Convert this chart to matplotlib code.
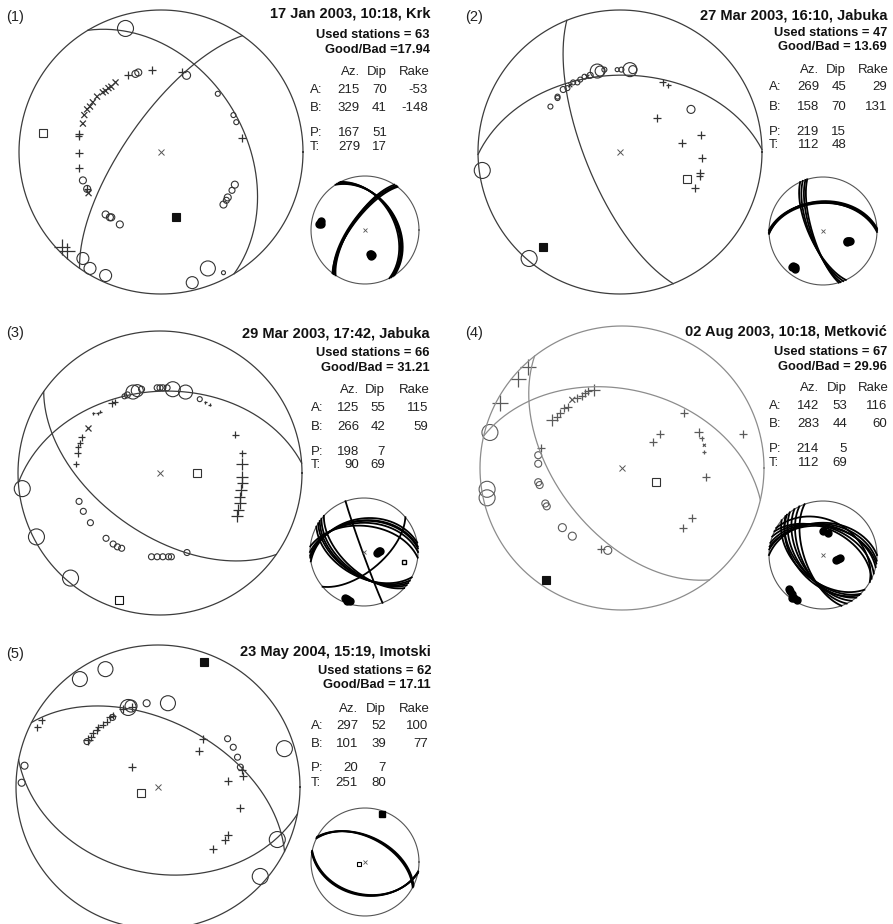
"""Focal mechanism stereonets for five earthquakes (lower hemisphere, equal area)."""

import matplotlib

matplotlib.use("Agg")

import matplotlib.pyplot as plt
import numpy as np


W, H = 893, 924

# ---- event data -------------------------------------------------------------
titles = [
    "17 Jan 2003, 10:18, Krk",
    "27 Mar 2003, 16:10, Jabuka",
    "29 Mar 2003, 17:42, Jabuka",
    "02 Aug 2003, 10:18, Metković",
    "23 May 2004, 15:19, Imotski",
]
used_stations = [63, 47, 66, 67, 62]
good_bad = ["=17.94", "= 13.69", "= 31.21", "= 29.96", "= 17.11"]
plane_a = [(215, 70, -53), (269, 45, 29), (125, 55, 115), (142, 53, 116), (297, 52, 100)]
plane_b = [(329, 41, -148), (158, 70, 131), (266, 42, 59), (283, 44, 60), (101, 39, 77)]
p_axis = [(167, 51), (219, 15), (198, 7), (214, 5), (20, 7)]
t_axis = [(279, 17), (112, 48), (90, 69), (112, 69), (251, 80)]
p_filled = [True, True, False, True, True]

# polarity readings, projected station positions (east, north in radius units)
# and symbol diameter in pixels
comp_1 = [(-0.23, 0.54, 8), (-0.06, 0.58, 8), (0.15, 0.56, 8), (0.57, 0.10, 8),
          (-0.58, 0.13, 8), (-0.58, 0.11, 7), (-0.58, -0.01, 8), (-0.58, -0.11, 8),
          (-0.52, -0.26, 7), (-0.70, -0.67, 16), (-0.66, -0.70, 16)]
cross_1 = [(-0.32, 0.49, 6), (-0.35, 0.46, 6), (-0.37, 0.45, 6), (-0.39, 0.43, 6),
           (-0.41, 0.42, 6), (-0.45, 0.39, 6), (-0.48, 0.35, 6), (-0.50, 0.32, 6),
           (-0.52, 0.30, 6), (-0.54, 0.26, 6), (-0.55, 0.20, 6), (-0.51, -0.29, 6)]
dil_1 = [(-0.25, 0.87, 16), (-0.18, 0.55, 7), (-0.16, 0.56, 7), (0.18, 0.54, 8),
         (0.40, 0.41, 5), (0.51, 0.26, 5), (0.53, 0.21, 5), (0.52, -0.23, 7),
         (0.50, -0.27, 6), (0.47, -0.32, 7), (0.46, -0.34, 6), (0.44, -0.37, 7),
         (-0.55, -0.20, 7), (-0.52, -0.26, 7), (-0.39, -0.44, 7), (-0.36, -0.46, 7),
         (-0.35, -0.46, 7), (-0.29, -0.51, 7), (-0.55, -0.75, 12), (-0.50, -0.82, 12),
         (-0.39, -0.87, 12), (0.22, -0.92, 12), (0.33, -0.82, 15), (0.44, -0.85, 4)]

comp_2 = [(0.30, 0.49, 7), (0.34, 0.47, 5), (0.26, 0.24, 8), (0.44, 0.06, 8),
          (0.57, 0.12, 8), (0.58, -0.04, 8), (0.56, -0.15, 8), (0.56, -0.17, 7),
          (0.53, -0.25, 8)]
cross_2 = [(-0.35, 0.47, 4), (-0.23, 0.53, 4)]
dil_2 = [(-0.49, 0.32, 5), (-0.44, 0.38, 5), (-0.44, 0.39, 5), (-0.40, 0.44, 6),
         (-0.37, 0.45, 5), (-0.33, 0.49, 5), (-0.30, 0.49, 5), (-0.28, 0.51, 5),
         (-0.25, 0.53, 5), (-0.21, 0.54, 6), (-0.16, 0.57, 14), (-0.14, 0.57, 10),
         (-0.11, 0.58, 5), (-0.02, 0.58, 4), (0.01, 0.58, 5), (0.07, 0.58, 14),
         (0.09, 0.58, 8), (0.50, 0.30, 8), (-0.97, -0.13, 16), (-0.64, -0.75, 16)]

comp_3 = [(0.32, 0.50, 3), (0.35, 0.48, 3), (-0.34, 0.49, 7), (-0.32, 0.50, 6),
          (-0.47, 0.42, 3), (-0.44, 0.42, 3), (-0.42, 0.43, 3), (-0.55, 0.25, 7),
          (-0.56, 0.21, 6), (-0.58, 0.18, 6), (-0.58, 0.14, 7), (-0.59, 0.06, 6),
          (0.53, 0.27, 7), (0.58, 0.14, 7), (0.58, 0.06, 12), (0.58, -0.03, 12),
          (0.58, -0.07, 11), (0.57, -0.12, 12), (0.56, -0.17, 11), (0.56, -0.21, 12),
          (0.55, -0.26, 11), (0.54, -0.30, 12)]
cross_3 = [(-0.51, 0.32, 6)]
dil_3 = [(-0.25, 0.54, 5), (-0.23, 0.55, 6), (-0.19, 0.57, 14), (-0.16, 0.58, 12),
         (-0.13, 0.59, 6), (-0.02, 0.60, 6), (0.00, 0.60, 6), (0.02, 0.60, 6),
         (0.05, 0.60, 6), (0.09, 0.59, 15), (0.18, 0.57, 14), (0.28, 0.52, 5),
         (-0.97, -0.11, 16), (-0.87, -0.45, 16), (-0.63, -0.74, 16), (-0.57, -0.20, 6),
         (-0.54, -0.27, 6), (-0.49, -0.35, 6), (-0.38, -0.46, 6), (-0.33, -0.50, 6),
         (-0.30, -0.52, 6), (-0.27, -0.53, 6), (-0.06, -0.59, 6), (-0.02, -0.59, 6),
         (0.02, -0.59, 6), (0.06, -0.59, 6), (0.08, -0.59, 6), (0.19, -0.56, 6)]

comp_4 = [(-0.66, 0.71, 16), (-0.73, 0.63, 16), (-0.86, 0.46, 16), (-0.49, 0.34, 12),
          (-0.46, 0.36, 8), (-0.44, 0.39, 8), (-0.41, 0.42, 8), (-0.38, 0.43, 8),
          (-0.32, 0.49, 8), (-0.28, 0.51, 8), (-0.26, 0.53, 8), (-0.24, 0.54, 8),
          (-0.20, 0.55, 12), (-0.57, 0.14, 8), (-0.15, -0.57, 8), (0.27, 0.24, 8),
          (0.22, 0.18, 8), (0.44, 0.39, 8), (0.54, 0.25, 9), (0.56, 0.21, 5),
          (0.58, 0.11, 4), (0.59, -0.06, 8), (0.49, -0.35, 8), (0.43, -0.42, 8),
          (0.85, 0.24, 8)]
cross_4 = [(-0.35, 0.48, 6), (0.58, 0.16, 3)]
dil_4 = [(-0.93, 0.25, 16), (-0.95, -0.15, 16), (-0.95, -0.21, 16), (-0.59, 0.09, 7),
         (-0.59, 0.03, 7), (-0.59, -0.10, 7), (-0.58, -0.12, 7), (-0.54, -0.25, 7),
         (-0.53, -0.27, 7), (-0.42, -0.42, 8), (-0.35, -0.48, 8), (-0.10, -0.58, 8)]

comp_5 = [(-0.85, 0.42, 7), (-0.82, 0.47, 7), (-0.49, 0.33, 10), (-0.47, 0.35, 7),
          (-0.46, 0.38, 7), (-0.43, 0.40, 7), (-0.42, 0.42, 7), (-0.39, 0.44, 7),
          (-0.36, 0.46, 7), (-0.34, 0.49, 7), (-0.32, 0.50, 7), (-0.25, 0.55, 8),
          (-0.18, 0.56, 8), (-0.18, 0.14, 8), (0.32, 0.34, 8), (0.29, 0.25, 8),
          (0.59, 0.12, 8), (0.60, 0.08, 8), (0.49, 0.04, 8), (0.58, -0.15, 8),
          (0.49, -0.34, 8), (0.47, -0.37, 8), (0.39, -0.44, 8)]
cross_5 = []
dil_5 = [(-0.55, 0.76, 15), (-0.37, 0.83, 15), (-0.21, 0.56, 16), (-0.19, 0.57, 12),
         (0.07, 0.59, 15), (0.89, 0.27, 16), (0.84, -0.37, 16), (0.72, -0.63, 16),
         (-0.08, 0.59, 7), (-0.94, 0.15, 7), (-0.96, 0.03, 7), (0.49, 0.34, 6),
         (0.53, 0.28, 6), (0.56, 0.21, 6), (0.58, 0.14, 6), (-0.50, 0.32, 6),
         (-0.32, 0.49, 6)]

compressions = [comp_1, comp_2, comp_3, comp_4, comp_5]
crosses = [cross_1, cross_2, cross_3, cross_4, cross_5]
dilatations = [dil_1, dil_2, dil_3, dil_4, dil_5]

# inset: nodal plane solutions (strike, dip) and P / T axes (trend, plunge)
ins_planes_1 = [(213, 69), (215, 70), (217, 71), (216, 68), (327, 40), (329, 41),
                (331, 42), (333, 44)]
ins_p_1 = [(167, 51), (165, 50), (169, 52), (166, 53), (168, 49)]
ins_t_1 = [(279, 17), (277, 16), (281, 18), (278, 19)]
ins_planes_2 = [(267, 44), (269, 45), (271, 46), (268, 47), (155, 69), (158, 70),
                (161, 72), (163, 74)]
ins_p_2 = [(219, 15), (217, 14), (221, 16), (220, 13), (218, 17)]
ins_t_2 = [(112, 48), (110, 47), (114, 49), (113, 50), (111, 46)]
ins_planes_3 = [(118, 52), (122, 54), (125, 55), (128, 57), (132, 60), (260, 38),
                (264, 41), (266, 42), (270, 45), (276, 50), (160, 88), (50, 62)]
ins_p_3 = [(198, 7), (196, 6), (200, 8), (199, 4), (203, 9)]
ins_t_3 = [(90, 69), (85, 68), (95, 70), (88, 66)]
ins_planes_4 = [(130, 50), (136, 52), (142, 53), (148, 56), (154, 58), (160, 62),
                (138, 48), (270, 40), (276, 42), (283, 44), (290, 47), (296, 50),
                (300, 36), (279, 46)]
ins_p_4 = [(214, 5), (218, 8), (222, 10), (210, 4), (225, 12), (216, 2)]
ins_t_4 = [(112, 69), (105, 66), (100, 64), (0, 53), (12, 55)]
ins_planes_5 = [(297, 52), (296, 51), (298, 53), (101, 39), (100, 38), (102, 40)]
ins_p_5 = [(20, 7)]
ins_t_5 = [(251, 80)]

inset_planes = [ins_planes_1, ins_planes_2, ins_planes_3, ins_planes_4, ins_planes_5]
inset_p = [ins_p_1, ins_p_2, ins_p_3, ins_p_4, ins_p_5]
inset_t = [ins_t_1, ins_t_2, ins_t_3, ins_t_4, ins_t_5]
inset_extra_square = [None, None, (104, 24), None, None]

# ---- layout (pixels) --------------------------------------------------------
R_MAIN = 142
R_INSET = 54
main_centers = [(161, 152), (620, 152), (160, 473), (622, 468), (158, 787)]
inset_centers = [(365, 230), (823, 231), (364, 552), (823, 555), (365, 862)]
label_pos = [(6, 17), (465, 17), (6, 333), (465, 333), (6, 654)]
text_right = [430, 887, 430, 887, 431]
col_label = [310, 769, 311, 769, 311]
col_az = [360, 819, 359, 819, 358]
col_dip = [387, 846, 385, 847, 386]
col_rake = [428, 887, 428, 887, 428]
row_y = [
    (14, 35, 50, 72, 90, 108, 133, 147),
    (15, 33, 47, 70, 87, 107, 132, 145),
    (333, 353, 368, 390, 408, 427, 452, 465),
    (332, 352, 367, 388, 406, 424, 449, 463),
    (652, 671, 685, 709, 726, 744, 768, 783),
]
line_colors = ["#3c3c3c", "#3c3c3c", "#3c3c3c", "#8c8c8c", "#3c3c3c"]
mark_colors = ["#333333", "#333333", "#333333", "#5a5a5a", "#333333"]

plt.rcParams["font.family"] = ["Liberation Sans", "DejaVu Sans"]


def project(trend, plunge):
    """Lower-hemisphere equal-area projection (radius 1 at horizontal)."""
    tr = np.radians(trend)
    r = np.sqrt(2.0) * np.sin(np.radians(90.0 - np.asarray(plunge)) / 2.0)
    return r * np.sin(tr), r * np.cos(tr)


def great_circle(strike, dip, n=181):
    t = np.linspace(0.0, np.pi, n)
    s = np.radians(strike)
    d = np.radians(dip)
    north = np.cos(t) * np.cos(s) + np.sin(t) * np.cos(s + np.pi / 2) * np.cos(d)
    east = np.cos(t) * np.sin(s) + np.sin(t) * np.sin(s + np.pi / 2) * np.cos(d)
    down = np.clip(np.sin(t) * np.sin(d), -1, 1)
    plunge = np.degrees(np.arcsin(down))
    trend = np.degrees(np.arctan2(east, north))
    return project(trend, plunge)


def add_circle_axes(fig, center, radius, pad=1.12):
    cx, cy = center
    half = radius * pad
    ax = fig.add_axes([(cx - half) / W, 1 - (cy + half) / H, 2 * half / W, 2 * half / H])
    ax.set_xlim(-pad, pad)
    ax.set_ylim(-pad, pad)
    ax.axis("off")
    return ax


def draw_main(fig, i):
    ax = add_circle_axes(fig, main_centers[i], R_MAIN)
    lc = line_colors[i]
    mc = mark_colors[i]
    th = np.linspace(0, 2 * np.pi, 361)
    ax.plot(np.cos(th), np.sin(th), color=lc, lw=0.9)
    for strike, dip, _ in (plane_a[i], plane_b[i]):
        x, y = great_circle(strike, dip)
        ax.plot(x, y, color=lc, lw=0.9)

    to_pt = 72.0 / 100.0
    comp = compressions[i]
    if comp:
        xs, ys, ds = zip(*comp)
        ax.scatter(xs, ys, s=(np.array(ds) * to_pt) ** 2, marker="+", color=mc,
                   linewidths=0.9, clip_on=False)
    crs = crosses[i]
    if crs:
        xs, ys, ds = zip(*crs)
        ax.scatter(xs, ys, s=(np.array(ds) * to_pt) ** 2, marker="x", color=mc,
                   linewidths=0.9, clip_on=False)
    dil = dilatations[i]
    xs, ys, ds = zip(*dil)
    ax.scatter(xs, ys, s=(np.array(ds) * to_pt) ** 2, marker="o", facecolors="none",
               edgecolors=mc, linewidths=0.8, clip_on=False)

    px, py = project(*p_axis[i])
    ax.plot(px, py, "s", ms=5.5, mec="#111111",
            mfc="#111111" if p_filled[i] else "white", mew=0.8)
    tx, ty = project(*t_axis[i])
    ax.plot(tx, ty, "s", ms=6, mec="#333333", mfc="white", mew=0.8)
    ax.plot(0, 0, "x", ms=4, color="#555555", mew=0.7)


def draw_inset(fig, i):
    ax = add_circle_axes(fig, inset_centers[i], R_INSET, pad=1.08)
    th = np.linspace(0, 2 * np.pi, 361)
    ax.plot(np.cos(th), np.sin(th), color="#555555", lw=0.8)
    for strike, dip in inset_planes[i]:
        x, y = great_circle(strike, dip)
        ax.plot(x, y, color="black", lw=1.3)
    if i == 4:
        px, py = project(*zip(*inset_p[i]))
        ax.plot(px, py, "s", ms=4, color="black")
        tx, ty = project(*zip(*inset_t[i]))
        ax.plot(tx, ty, "s", ms=3.5, mfc="white", mec="black", mew=0.8)
    else:
        for pts in (inset_p[i], inset_t[i]):
            px, py = project(*zip(*pts))
            ax.plot(px, py, "o", ms=5, color="black", ls="none")
    if inset_extra_square[i] is not None:
        ex, ey = project(*inset_extra_square[i])
        ax.plot(ex, ey, "s", ms=3.5, mfc="white", mec="black", mew=1.0)
    ax.plot(0, 0, "x", ms=2.5, color="#555555", mew=0.6)


def fig_text(fig, x, y, s, **kw):
    fig.text(x / W, 1 - y / H, s, va="center", **kw)


def draw_text(fig, i):
    ys = row_y[i]
    right = text_right[i]
    lx, ly = label_pos[i]
    fig_text(fig, lx, ly, "(%d)" % (i + 1), ha="left", fontsize=10.5, color="#222222")
    fig_text(fig, right, ys[0], titles[i], ha="right", fontsize=10.5, fontweight="bold",
             color="#111111")
    fig_text(fig, right, ys[1], "Used stations = %d" % used_stations[i], ha="right",
             fontsize=9.3, fontweight="bold", color="#111111")
    fig_text(fig, right, ys[2], "Good/Bad " + good_bad[i], ha="right", fontsize=9.3,
             fontweight="bold", color="#111111")
    kw = dict(fontsize=9.5, color="#222222")
    fig_text(fig, col_az[i], ys[3], "Az.", ha="right", **kw)
    fig_text(fig, col_dip[i], ys[3], "Dip", ha="right", **kw)
    fig_text(fig, col_rake[i] + 2, ys[3], "Rake", ha="right", **kw)
    for name, vals, y in (("A:", plane_a[i], ys[4]), ("B:", plane_b[i], ys[5])):
        fig_text(fig, col_label[i], y, name, ha="left", **kw)
        fig_text(fig, col_az[i], y, str(vals[0]), ha="right", **kw)
        fig_text(fig, col_dip[i], y, str(vals[1]), ha="right", **kw)
        fig_text(fig, col_rake[i], y, str(vals[2]), ha="right", **kw)
    for name, vals, y in (("P:", p_axis[i], ys[6]), ("T:", t_axis[i], ys[7])):
        fig_text(fig, col_label[i], y, name, ha="left", **kw)
        fig_text(fig, col_az[i], y, str(vals[0]), ha="right", **kw)
        fig_text(fig, col_dip[i], y, str(vals[1]), ha="right", **kw)


def main():
    fig = plt.figure(figsize=(W / 100, H / 100), dpi=100)
    fig.patch.set_facecolor("white")
    for i in range(5):
        draw_main(fig, i)
        draw_inset(fig, i)
        draw_text(fig, i)
    fig.savefig("out.png", dpi=100)
    plt.close(fig)


if __name__ == "__main__":
    main()
